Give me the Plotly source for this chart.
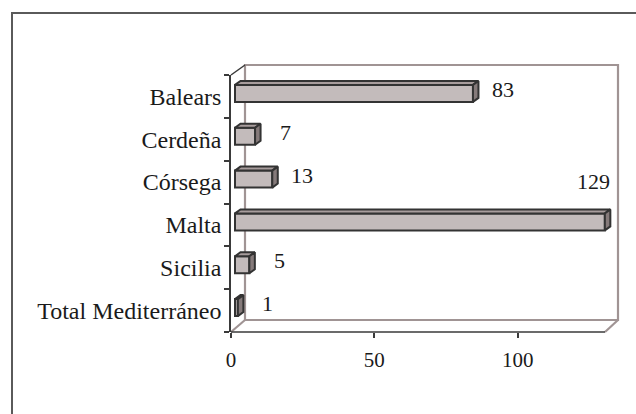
import plotly.graph_objects as go

# ---- data ----
categories = ["Total Mediterráneo", "Sicilia", "Malta", "Córsega", "Cerdeña", "Balears"]
values = [1, 5, 129, 13, 7, 83]
x_tickvals = [0, 50, 100]
x_ticktext = ["0", "50", "100"]

# ---- layout geometry (pixels) ----
W, H = 636, 414
ML, MR, MT, MB = 231, 16, 75, 82
PW, PH = W - ML - MR, H - MT - MB
PX_PER_UNIT = 2.867
XMAX = PW / PX_PER_UNIT
YMIN, YMAX = -0.5, len(categories) - 0.5
ux = XMAX / PW            # data units per px (x)
uy = (YMAX - YMIN) / PH   # data units per px (y)


def px(xp):
    return (xp - ML) / PW


def py(yp):
    return (H - MB - yp) / PH


FILL = "#c3bbbb"
TOP = "#a89d9d"
SIDE = "#857a7a"
EDGE = "#333333"
WALL = "#a09494"
DARK = "#3a3a3a"
FONT = "Times New Roman, Liberation Serif, DejaVu Serif, serif"

off = 4 * ux          # front face starts slightly behind the axis
dx, dy = 5.5 * ux, 4 * uy
half = 8.5 * uy
lift = 3 * uy

fig = go.Figure()

ys = [i + lift for i in range(len(categories))]
fig.add_trace(go.Bar(
    y=ys, x=values, base=[off] * len(values), orientation="h",
    width=2 * half, marker=dict(color=FILL, line=dict(color=EDGE, width=2)),
    hoverinfo="skip", showlegend=False,
))

for i, v in enumerate(values):
    yc = i + lift
    yt, yb = yc + half, yc - half
    x0, x1 = off, off + v
    # top face
    fig.add_trace(go.Scatter(
        x=[x0, x1, x1 + dx, x0 + dx, x0], y=[yt, yt, yt + dy, yt + dy, yt],
        mode="lines", fill="toself", fillcolor=TOP,
        line=dict(color=EDGE, width=2), hoverinfo="skip", showlegend=False))
    # right face
    fig.add_trace(go.Scatter(
        x=[x1, x1, x1 + dx, x1 + dx, x1], y=[yb, yt, yt + dy, yb + dy, yb],
        mode="lines", fill="toself", fillcolor=SIDE,
        line=dict(color=EDGE, width=2), hoverinfo="skip", showlegend=False))

annotations = []
for i, v in enumerate(values):
    end_px = ML + (off + v) / ux
    if end_px + 40 > W - MR:
        annotations.append(dict(x=off + v, y=i, xref="x", yref="y", text=str(v),
                                showarrow=False, xanchor="right", yanchor="middle",
                                xshift=7, yshift=43,
                                font=dict(family=FONT, size=22, color="#1a1a1a")))
    else:
        annotations.append(dict(x=off + v, y=i, xref="x", yref="y", text=str(v),
                                showarrow=False, xanchor="center", yanchor="middle",
                                xshift=30, yshift=7,
                                font=dict(family=FONT, size=22, color="#1a1a1a")))

shapes = [
    # outer border (top & left visible)
    dict(type="path", xref="paper", yref="paper",
         path=f"M {px(12)},{py(420)} L {px(12)},{py(13)} L {px(640)},{py(13)}",
         line=dict(color="#5a5a5a", width=2), layer="below"),
    # back wall + floor back line
    dict(type="path", xref="paper", yref="paper",
         path=f"M {px(245)},{py(320)} L {px(245)},{py(65)} L {px(618)},{py(65)} "
              f"L {px(618)},{py(320)} Z",
         line=dict(color=WALL, width=2.2), layer="below"),
    # left wall diagonals
    dict(type="line", xref="paper", yref="paper",
         x0=px(231), y0=py(75), x1=px(245), y1=py(65),
         line=dict(color=DARK, width=1.5), layer="below"),
    dict(type="line", xref="paper", yref="paper",
         x0=px(231), y0=py(332), x1=px(245), y1=py(320),
         line=dict(color=WALL, width=2.2), layer="below"),
    # floor right diagonal
    dict(type="line", xref="paper", yref="paper",
         x0=px(605), y0=py(332), x1=px(618), y1=py(320),
         line=dict(color=WALL, width=2.2), layer="below"),
    # floor front line
    dict(type="line", xref="paper", yref="paper",
         x0=px(231), y0=py(332), x1=px(605), y1=py(332),
         line=dict(color=DARK, width=1.5), layer="above"),
]

fig.update_layout(
    width=W, height=H,
    margin=dict(l=ML, r=MR, t=MT, b=MB, pad=0),
    paper_bgcolor="white", plot_bgcolor="rgba(0,0,0,0)",
    barmode="overlay",
    shapes=shapes, annotations=annotations,
    font=dict(family=FONT, color="#1a1a1a"),
    xaxis=dict(range=[0, XMAX], tickvals=x_tickvals, ticktext=x_ticktext,
               ticks="outside", ticklen=5, tickcolor=DARK, tickwidth=1.5,
               showline=False, showgrid=False, zeroline=False,
               tickfont=dict(family=FONT, size=21, color="#1a1a1a"),
               ticklabelstandoff=4, fixedrange=True),
    yaxis=dict(range=[YMIN, YMAX], tickvals=list(range(len(categories))),
               ticktext=categories, ticks="", showline=True, linecolor=DARK,
               linewidth=1.5, showgrid=False, zeroline=False,
               tickfont=dict(family=FONT, size=24, color="#1a1a1a"),
               ticklabelstandoff=3,
               minor=dict(tickvals=[k - 0.5 for k in range(len(categories) + 1)],
                          ticks="outside", ticklen=5, tickcolor=DARK, tickwidth=1.5),
               fixedrange=True),
)

fig.write_html("out.html", config={"displayModeBar": False},
               post_script="document.body.style.margin='0';"
                           "document.body.style.padding='0';")
